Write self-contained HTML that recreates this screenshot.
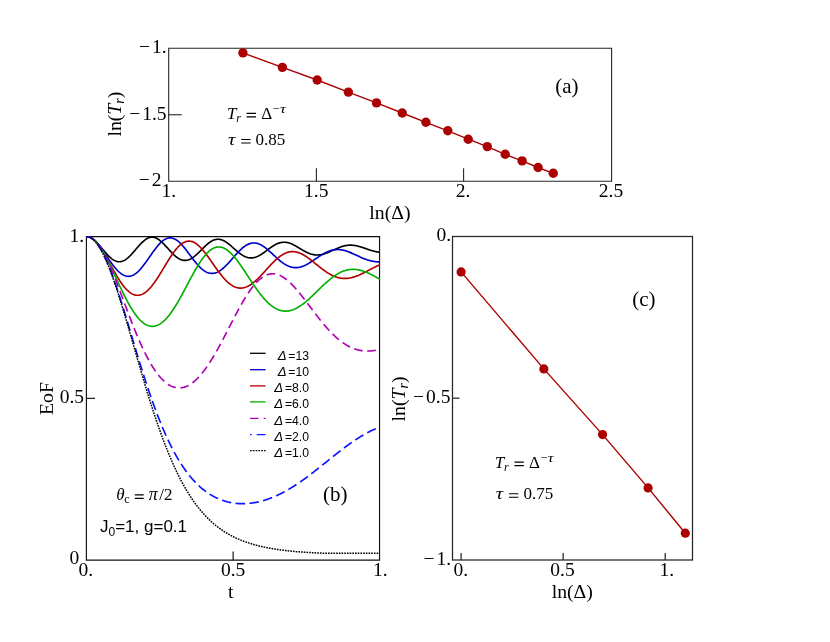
<!DOCTYPE html>
<html><head><meta charset="utf-8"><title>fig</title><style>html,body{margin:0;padding:0;background:#fff}svg{display:block;will-change:transform;opacity:0.999}</style></head><body>
<svg width="830" height="642" viewBox="0 0 830 642">
<rect width="830" height="642" fill="#fff"/>
<defs><clipPath id="cb"><rect x="85.9" y="236.0" width="294.7" height="324.7"/></clipPath></defs>
<g stroke="#262626" stroke-width="1.1" fill="none">
<path d="M168.7,47.65V181.8M611.6,47.65V181.8M168.15,48.2H612.15M168.15,181.25H612.15"/>
<line x1="316.40" y1="181.2" x2="316.40" y2="168.2"/>
<line x1="463.60" y1="181.2" x2="463.60" y2="168.2"/>
<line x1="168.65" y1="114.75" x2="181.65" y2="114.75"/>
</g>
<path d="M242.92,52.90 L282.39,67.40 L317.21,80.00 L348.35,92.10 L376.52,102.90 L402.24,113.00 L425.90,122.30 L447.81,130.80 L468.21,139.20 L487.28,146.60 L505.20,154.30 L522.10,160.90 L538.08,167.50 L553.24,173.30" stroke="#ab0000" stroke-width="1.4" fill="none"/>
<circle cx="242.92" cy="52.90" r="4.7" fill="#ab0000"/>
<circle cx="282.39" cy="67.40" r="4.7" fill="#ab0000"/>
<circle cx="317.21" cy="80.00" r="4.7" fill="#ab0000"/>
<circle cx="348.35" cy="92.10" r="4.7" fill="#ab0000"/>
<circle cx="376.52" cy="102.90" r="4.7" fill="#ab0000"/>
<circle cx="402.24" cy="113.00" r="4.7" fill="#ab0000"/>
<circle cx="425.90" cy="122.30" r="4.7" fill="#ab0000"/>
<circle cx="447.81" cy="130.80" r="4.7" fill="#ab0000"/>
<circle cx="468.21" cy="139.20" r="4.7" fill="#ab0000"/>
<circle cx="487.28" cy="146.60" r="4.7" fill="#ab0000"/>
<circle cx="505.20" cy="154.30" r="4.7" fill="#ab0000"/>
<circle cx="522.10" cy="160.90" r="4.7" fill="#ab0000"/>
<circle cx="538.08" cy="167.50" r="4.7" fill="#ab0000"/>
<circle cx="553.24" cy="173.30" r="4.7" fill="#ab0000"/>
<g stroke="#101010" stroke-width="1.15" fill="none">
<path d="M86.4,236.0V560.7M379.55,236.0V560.7M85.8,236.55H380.1M85.8,560.15H380.1"/>
<line x1="233.15" y1="560.2" x2="233.15" y2="551.6"/>
<line x1="86.4" y1="398.35" x2="95.0" y2="398.35"/>
</g>
<g clip-path="url(#cb)" fill="none" stroke-width="1.65">
<path d="M86.40,236.50 L86.99,236.52 L87.57,236.58 L88.16,236.69 L88.75,236.83 L89.34,237.01 L89.92,237.24 L90.51,237.50 L91.10,237.80 L91.68,238.14 L92.27,238.51 L92.86,238.92 L93.44,239.36 L94.03,239.84 L94.62,240.34 L95.21,240.87 L95.79,241.43 L96.38,242.01 L96.97,242.61 L97.55,243.24 L98.14,243.88 L98.73,244.54 L99.31,245.21 L99.90,245.90 L100.49,246.59 L101.08,247.29 L101.66,248.00 L102.25,248.71 L102.84,249.42 L103.42,250.12 L104.01,250.83 L104.60,251.53 L105.18,252.21 L105.77,252.89 L106.36,253.56 L106.95,254.21 L107.53,254.85 L108.12,255.46 L108.71,256.06 L109.29,256.63 L109.88,257.19 L110.47,257.71 L111.05,258.21 L111.64,258.68 L112.23,259.12 L112.81,259.53 L113.40,259.91 L113.99,260.25 L114.58,260.56 L115.16,260.84 L115.75,261.08 L116.34,261.28 L116.92,261.45 L117.51,261.58 L118.10,261.67 L118.69,261.72 L119.27,261.74 L119.86,261.71 L120.45,261.65 L121.03,261.56 L121.62,261.42 L122.21,261.25 L122.79,261.04 L123.38,260.80 L123.97,260.52 L124.56,260.20 L125.14,259.86 L125.73,259.48 L126.32,259.07 L126.90,258.63 L127.49,258.16 L128.08,257.66 L128.66,257.14 L129.25,256.59 L129.84,256.03 L130.43,255.44 L131.01,254.83 L131.60,254.20 L132.19,253.56 L132.77,252.91 L133.36,252.24 L133.95,251.57 L134.53,250.88 L135.12,250.20 L135.71,249.51 L136.30,248.82 L136.88,248.13 L137.47,247.44 L138.06,246.76 L138.64,246.09 L139.23,245.43 L139.82,244.78 L140.40,244.15 L140.99,243.53 L141.58,242.93 L142.17,242.35 L142.75,241.80 L143.34,241.27 L143.93,240.76 L144.51,240.28 L145.10,239.83 L145.69,239.41 L146.27,239.03 L146.86,238.68 L147.45,238.36 L148.03,238.07 L148.62,237.83 L149.21,237.62 L149.80,237.45 L150.38,237.32 L150.97,237.22 L151.56,237.17 L152.14,237.15 L152.73,237.18 L153.32,237.24 L153.91,237.34 L154.49,237.48 L155.08,237.66 L155.67,237.87 L156.25,238.12 L156.84,238.41 L157.43,238.72 L158.01,239.08 L158.60,239.46 L159.19,239.88 L159.78,240.32 L160.36,240.79 L160.95,241.29 L161.54,241.81 L162.12,242.35 L162.71,242.91 L163.30,243.49 L163.88,244.09 L164.47,244.70 L165.06,245.32 L165.65,245.95 L166.23,246.60 L166.82,247.24 L167.41,247.90 L167.99,248.55 L168.58,249.20 L169.17,249.85 L169.75,250.50 L170.34,251.14 L170.93,251.77 L171.51,252.39 L172.10,253.00 L172.69,253.60 L173.28,254.18 L173.86,254.74 L174.45,255.28 L175.04,255.81 L175.62,256.31 L176.21,256.78 L176.80,257.24 L177.38,257.66 L177.97,258.06 L178.56,258.44 L179.15,258.78 L179.73,259.09 L180.32,259.37 L180.91,259.62 L181.49,259.84 L182.08,260.02 L182.67,260.17 L183.25,260.29 L183.84,260.37 L184.43,260.42 L185.02,260.44 L185.60,260.42 L186.19,260.37 L186.78,260.28 L187.36,260.17 L187.95,260.02 L188.54,259.83 L189.12,259.62 L189.71,259.37 L190.30,259.10 L190.89,258.80 L191.47,258.46 L192.06,258.11 L192.65,257.72 L193.23,257.31 L193.82,256.88 L194.41,256.42 L195.00,255.95 L195.58,255.46 L196.17,254.94 L196.76,254.42 L197.34,253.87 L197.93,253.32 L198.52,252.75 L199.10,252.18 L199.69,251.60 L200.28,251.01 L200.87,250.42 L201.45,249.83 L202.04,249.23 L202.63,248.64 L203.21,248.05 L203.80,247.47 L204.39,246.90 L204.97,246.33 L205.56,245.78 L206.15,245.24 L206.74,244.71 L207.32,244.20 L207.91,243.71 L208.50,243.24 L209.08,242.78 L209.67,242.35 L210.26,241.95 L210.84,241.57 L211.43,241.21 L212.02,240.88 L212.61,240.58 L213.19,240.31 L213.78,240.07 L214.37,239.86 L214.95,239.67 L215.54,239.53 L216.13,239.41 L216.71,239.32 L217.30,239.27 L217.89,239.25 L218.48,239.26 L219.06,239.30 L219.65,239.38 L220.24,239.49 L220.82,239.62 L221.41,239.79 L222.00,239.99 L222.58,240.21 L223.17,240.47 L223.76,240.75 L224.35,241.05 L224.93,241.38 L225.52,241.74 L226.11,242.11 L226.69,242.51 L227.28,242.92 L227.87,243.36 L228.45,243.81 L229.04,244.27 L229.63,244.75 L230.22,245.24 L230.80,245.73 L231.39,246.24 L231.98,246.75 L232.56,247.27 L233.15,247.79 L233.74,248.32 L234.32,248.84 L234.91,249.36 L235.50,249.88 L236.09,250.39 L236.67,250.90 L237.26,251.39 L237.85,251.88 L238.43,252.36 L239.02,252.82 L239.61,253.28 L240.19,253.71 L240.78,254.13 L241.37,254.54 L241.96,254.92 L242.54,255.29 L243.13,255.63 L243.72,255.95 L244.30,256.25 L244.89,256.53 L245.48,256.79 L246.06,257.02 L246.65,257.22 L247.24,257.40 L247.83,257.56 L248.41,257.69 L249.00,257.79 L249.59,257.86 L250.17,257.91 L250.76,257.94 L251.35,257.94 L251.93,257.91 L252.52,257.85 L253.11,257.77 L253.70,257.67 L254.28,257.54 L254.87,257.39 L255.46,257.21 L256.04,257.01 L256.63,256.79 L257.22,256.55 L257.80,256.28 L258.39,256.00 L258.98,255.70 L259.56,255.38 L260.15,255.04 L260.74,254.69 L261.33,254.33 L261.91,253.95 L262.50,253.56 L263.09,253.16 L263.67,252.75 L264.26,252.33 L264.85,251.90 L265.44,251.47 L266.02,251.04 L266.61,250.60 L267.20,250.16 L267.78,249.72 L268.37,249.29 L268.96,248.85 L269.54,248.42 L270.13,248.00 L270.72,247.58 L271.31,247.17 L271.89,246.77 L272.48,246.38 L273.07,246.01 L273.65,245.64 L274.24,245.29 L274.83,244.96 L275.41,244.64 L276.00,244.33 L276.59,244.05 L277.18,243.78 L277.76,243.53 L278.35,243.31 L278.94,243.10 L279.52,242.91 L280.11,242.75 L280.70,242.61 L281.28,242.49 L281.87,242.39 L282.46,242.32 L283.05,242.27 L283.63,242.24 L284.22,242.23 L284.81,242.25 L285.39,242.28 L285.98,242.34 L286.57,242.43 L287.15,242.53 L287.74,242.65 L288.33,242.80 L288.92,242.96 L289.50,243.14 L290.09,243.34 L290.68,243.56 L291.26,243.79 L291.85,244.04 L292.44,244.31 L293.02,244.58 L293.61,244.87 L294.20,245.18 L294.78,245.49 L295.37,245.81 L295.96,246.14 L296.55,246.48 L297.13,246.82 L297.72,247.17 L298.31,247.52 L298.89,247.87 L299.48,248.23 L300.07,248.59 L300.65,248.94 L301.24,249.30 L301.83,249.65 L302.42,249.99 L303.00,250.34 L303.59,250.67 L304.18,251.00 L304.76,251.32 L305.35,251.63 L305.94,251.94 L306.52,252.23 L307.11,252.51 L307.70,252.78 L308.29,253.03 L308.87,253.27 L309.46,253.50 L310.05,253.72 L310.63,253.91 L311.22,254.10 L311.81,254.26 L312.39,254.41 L312.98,254.55 L313.57,254.66 L314.16,254.76 L314.74,254.85 L315.33,254.91 L315.92,254.96 L316.50,254.99 L317.09,255.00 L317.68,255.00 L318.26,254.98 L318.85,254.94 L319.44,254.89 L320.03,254.82 L320.61,254.73 L321.20,254.63 L321.79,254.51 L322.37,254.38 L322.96,254.23 L323.55,254.08 L324.13,253.90 L324.72,253.72 L325.31,253.53 L325.90,253.32 L326.48,253.10 L327.07,252.88 L327.66,252.64 L328.24,252.40 L328.83,252.15 L329.42,251.90 L330.00,251.64 L330.59,251.37 L331.18,251.11 L331.77,250.83 L332.35,250.56 L332.94,250.29 L333.53,250.01 L334.11,249.74 L334.70,249.47 L335.29,249.20 L335.88,248.93 L336.46,248.67 L337.05,248.41 L337.64,248.16 L338.22,247.91 L338.81,247.67 L339.40,247.44 L339.98,247.22 L340.57,247.00 L341.16,246.80 L341.75,246.61 L342.33,246.42 L342.92,246.25 L343.51,246.09 L344.09,245.94 L344.68,245.80 L345.27,245.68 L345.85,245.56 L346.44,245.46 L347.03,245.38 L347.62,245.31 L348.20,245.25 L348.79,245.20 L349.38,245.17 L349.96,245.15 L350.55,245.15 L351.14,245.16 L351.72,245.18 L352.31,245.21 L352.90,245.26 L353.49,245.32 L354.07,245.39 L354.66,245.48 L355.25,245.57 L355.83,245.68 L356.42,245.79 L357.01,245.92 L357.59,246.05 L358.18,246.20 L358.77,246.35 L359.36,246.51 L359.94,246.68 L360.53,246.85 L361.12,247.03 L361.70,247.21 L362.29,247.40 L362.88,247.60 L363.46,247.79 L364.05,247.99 L364.64,248.19 L365.23,248.40 L365.81,248.60 L366.40,248.81 L366.99,249.01 L367.57,249.21 L368.16,249.41 L368.75,249.61 L369.33,249.80 L369.92,250.00 L370.51,250.18 L371.10,250.37 L371.68,250.54 L372.27,250.71 L372.86,250.88 L373.44,251.04 L374.03,251.19 L374.62,251.34 L375.20,251.48 L375.79,251.61 L376.38,251.73 L376.97,251.84 L377.55,251.94 L378.14,252.04 L378.73,252.13 L379.31,252.20 L379.90,252.27" stroke="#000000" />
<path d="M86.40,236.50 L86.99,236.52 L87.57,236.58 L88.16,236.68 L88.75,236.83 L89.34,237.01 L89.92,237.23 L90.51,237.50 L91.10,237.80 L91.68,238.14 L92.27,238.52 L92.86,238.93 L93.44,239.38 L94.03,239.86 L94.62,240.38 L95.21,240.93 L95.79,241.51 L96.38,242.12 L96.97,242.76 L97.55,243.43 L98.14,244.12 L98.73,244.83 L99.31,245.57 L99.90,246.33 L100.49,247.11 L101.08,247.91 L101.66,248.72 L102.25,249.55 L102.84,250.39 L103.42,251.24 L104.01,252.10 L104.60,252.96 L105.18,253.83 L105.77,254.71 L106.36,255.59 L106.95,256.47 L107.53,257.34 L108.12,258.22 L108.71,259.09 L109.29,259.95 L109.88,260.81 L110.47,261.65 L111.05,262.49 L111.64,263.31 L112.23,264.12 L112.81,264.91 L113.40,265.68 L113.99,266.44 L114.58,267.17 L115.16,267.89 L115.75,268.58 L116.34,269.25 L116.92,269.89 L117.51,270.51 L118.10,271.11 L118.69,271.67 L119.27,272.20 L119.86,272.71 L120.45,273.18 L121.03,273.63 L121.62,274.04 L122.21,274.42 L122.79,274.77 L123.38,275.08 L123.97,275.36 L124.56,275.60 L125.14,275.81 L125.73,275.98 L126.32,276.12 L126.90,276.22 L127.49,276.29 L128.08,276.32 L128.66,276.31 L129.25,276.27 L129.84,276.19 L130.43,276.08 L131.01,275.93 L131.60,275.74 L132.19,275.53 L132.77,275.27 L133.36,274.98 L133.95,274.66 L134.53,274.31 L135.12,273.92 L135.71,273.51 L136.30,273.06 L136.88,272.58 L137.47,272.07 L138.06,271.53 L138.64,270.97 L139.23,270.38 L139.82,269.76 L140.40,269.12 L140.99,268.45 L141.58,267.77 L142.17,267.06 L142.75,266.33 L143.34,265.59 L143.93,264.83 L144.51,264.05 L145.10,263.26 L145.69,262.45 L146.27,261.64 L146.86,260.81 L147.45,259.98 L148.03,259.14 L148.62,258.30 L149.21,257.45 L149.80,256.60 L150.38,255.75 L150.97,254.91 L151.56,254.06 L152.14,253.23 L152.73,252.39 L153.32,251.57 L153.91,250.76 L154.49,249.96 L155.08,249.17 L155.67,248.40 L156.25,247.65 L156.84,246.91 L157.43,246.19 L158.01,245.50 L158.60,244.82 L159.19,244.18 L159.78,243.55 L160.36,242.96 L160.95,242.39 L161.54,241.85 L162.12,241.34 L162.71,240.86 L163.30,240.42 L163.88,240.01 L164.47,239.63 L165.06,239.29 L165.65,238.99 L166.23,238.72 L166.82,238.48 L167.41,238.29 L167.99,238.13 L168.58,238.01 L169.17,237.93 L169.75,237.89 L170.34,237.89 L170.93,237.92 L171.51,237.99 L172.10,238.10 L172.69,238.25 L173.28,238.43 L173.86,238.65 L174.45,238.91 L175.04,239.20 L175.62,239.53 L176.21,239.89 L176.80,240.28 L177.38,240.71 L177.97,241.16 L178.56,241.65 L179.15,242.16 L179.73,242.70 L180.32,243.27 L180.91,243.86 L181.49,244.48 L182.08,245.12 L182.67,245.77 L183.25,246.45 L183.84,247.15 L184.43,247.86 L185.02,248.58 L185.60,249.32 L186.19,250.07 L186.78,250.83 L187.36,251.60 L187.95,252.38 L188.54,253.16 L189.12,253.94 L189.71,254.73 L190.30,255.51 L190.89,256.30 L191.47,257.08 L192.06,257.86 L192.65,258.63 L193.23,259.39 L193.82,260.15 L194.41,260.90 L195.00,261.63 L195.58,262.35 L196.17,263.06 L196.76,263.75 L197.34,264.43 L197.93,265.09 L198.52,265.73 L199.10,266.35 L199.69,266.95 L200.28,267.53 L200.87,268.08 L201.45,268.61 L202.04,269.12 L202.63,269.60 L203.21,270.06 L203.80,270.49 L204.39,270.89 L204.97,271.26 L205.56,271.60 L206.15,271.92 L206.74,272.21 L207.32,272.46 L207.91,272.69 L208.50,272.89 L209.08,273.05 L209.67,273.19 L210.26,273.29 L210.84,273.37 L211.43,273.41 L212.02,273.42 L212.61,273.40 L213.19,273.36 L213.78,273.28 L214.37,273.17 L214.95,273.03 L215.54,272.86 L216.13,272.66 L216.71,272.44 L217.30,272.18 L217.89,271.90 L218.48,271.59 L219.06,271.26 L219.65,270.90 L220.24,270.52 L220.82,270.11 L221.41,269.68 L222.00,269.22 L222.58,268.75 L223.17,268.25 L223.76,267.73 L224.35,267.20 L224.93,266.65 L225.52,266.08 L226.11,265.50 L226.69,264.90 L227.28,264.29 L227.87,263.66 L228.45,263.03 L229.04,262.39 L229.63,261.74 L230.22,261.08 L230.80,260.42 L231.39,259.75 L231.98,259.08 L232.56,258.41 L233.15,257.73 L233.74,257.06 L234.32,256.39 L234.91,255.72 L235.50,255.06 L236.09,254.41 L236.67,253.76 L237.26,253.12 L237.85,252.49 L238.43,251.87 L239.02,251.27 L239.61,250.68 L240.19,250.10 L240.78,249.54 L241.37,249.00 L241.96,248.47 L242.54,247.96 L243.13,247.48 L243.72,247.01 L244.30,246.56 L244.89,246.14 L245.48,245.75 L246.06,245.37 L246.65,245.02 L247.24,244.70 L247.83,244.40 L248.41,244.13 L249.00,243.89 L249.59,243.67 L250.17,243.48 L250.76,243.32 L251.35,243.19 L251.93,243.08 L252.52,243.01 L253.11,242.96 L253.70,242.94 L254.28,242.95 L254.87,242.98 L255.46,243.04 L256.04,243.14 L256.63,243.25 L257.22,243.40 L257.80,243.57 L258.39,243.76 L258.98,243.98 L259.56,244.23 L260.15,244.50 L260.74,244.79 L261.33,245.10 L261.91,245.44 L262.50,245.79 L263.09,246.17 L263.67,246.56 L264.26,246.97 L264.85,247.40 L265.44,247.84 L266.02,248.30 L266.61,248.77 L267.20,249.26 L267.78,249.75 L268.37,250.26 L268.96,250.77 L269.54,251.29 L270.13,251.82 L270.72,252.36 L271.31,252.90 L271.89,253.44 L272.48,253.98 L273.07,254.53 L273.65,255.08 L274.24,255.62 L274.83,256.17 L275.41,256.71 L276.00,257.25 L276.59,257.78 L277.18,258.30 L277.76,258.82 L278.35,259.33 L278.94,259.84 L279.52,260.33 L280.11,260.81 L280.70,261.28 L281.28,261.74 L281.87,262.18 L282.46,262.62 L283.05,263.03 L283.63,263.44 L284.22,263.82 L284.81,264.19 L285.39,264.55 L285.98,264.88 L286.57,265.20 L287.15,265.50 L287.74,265.78 L288.33,266.05 L288.92,266.29 L289.50,266.51 L290.09,266.72 L290.68,266.90 L291.26,267.07 L291.85,267.21 L292.44,267.33 L293.02,267.44 L293.61,267.52 L294.20,267.58 L294.78,267.62 L295.37,267.64 L295.96,267.64 L296.55,267.63 L297.13,267.59 L297.72,267.53 L298.31,267.45 L298.89,267.36 L299.48,267.24 L300.07,267.11 L300.65,266.96 L301.24,266.79 L301.83,266.60 L302.42,266.40 L303.00,266.18 L303.59,265.95 L304.18,265.70 L304.76,265.44 L305.35,265.17 L305.94,264.88 L306.52,264.57 L307.11,264.26 L307.70,263.94 L308.29,263.60 L308.87,263.26 L309.46,262.91 L310.05,262.54 L310.63,262.18 L311.22,261.80 L311.81,261.42 L312.39,261.03 L312.98,260.64 L313.57,260.25 L314.16,259.85 L314.74,259.45 L315.33,259.05 L315.92,258.65 L316.50,258.25 L317.09,257.86 L317.68,257.46 L318.26,257.07 L318.85,256.68 L319.44,256.29 L320.03,255.91 L320.61,255.53 L321.20,255.17 L321.79,254.80 L322.37,254.45 L322.96,254.11 L323.55,253.77 L324.13,253.44 L324.72,253.13 L325.31,252.82 L325.90,252.53 L326.48,252.24 L327.07,251.97 L327.66,251.71 L328.24,251.47 L328.83,251.24 L329.42,251.02 L330.00,250.82 L330.59,250.63 L331.18,250.45 L331.77,250.30 L332.35,250.15 L332.94,250.02 L333.53,249.91 L334.11,249.81 L334.70,249.73 L335.29,249.66 L335.88,249.60 L336.46,249.57 L337.05,249.54 L337.64,249.54 L338.22,249.55 L338.81,249.57 L339.40,249.61 L339.98,249.66 L340.57,249.72 L341.16,249.80 L341.75,249.90 L342.33,250.00 L342.92,250.12 L343.51,250.25 L344.09,250.39 L344.68,250.55 L345.27,250.71 L345.85,250.89 L346.44,251.08 L347.03,251.27 L347.62,251.48 L348.20,251.69 L348.79,251.91 L349.38,252.14 L349.96,252.38 L350.55,252.62 L351.14,252.87 L351.72,253.12 L352.31,253.38 L352.90,253.64 L353.49,253.90 L354.07,254.17 L354.66,254.44 L355.25,254.72 L355.83,254.99 L356.42,255.26 L357.01,255.54 L357.59,255.81 L358.18,256.08 L358.77,256.35 L359.36,256.62 L359.94,256.89 L360.53,257.15 L361.12,257.41 L361.70,257.67 L362.29,257.92 L362.88,258.17 L363.46,258.41 L364.05,258.64 L364.64,258.87 L365.23,259.10 L365.81,259.31 L366.40,259.52 L366.99,259.72 L367.57,259.92 L368.16,260.11 L368.75,260.28 L369.33,260.45 L369.92,260.61 L370.51,260.76 L371.10,260.91 L371.68,261.04 L372.27,261.16 L372.86,261.28 L373.44,261.38 L374.03,261.48 L374.62,261.57 L375.20,261.64 L375.79,261.71 L376.38,261.76 L376.97,261.81 L377.55,261.85 L378.14,261.88 L378.73,261.89 L379.31,261.90 L379.90,261.90" stroke="#0000c8" />
<path d="M86.40,236.50 L86.99,236.52 L87.57,236.58 L88.16,236.69 L88.75,236.84 L89.34,237.03 L89.92,237.26 L90.51,237.53 L91.10,237.85 L91.68,238.20 L92.27,238.59 L92.86,239.03 L93.44,239.50 L94.03,240.00 L94.62,240.55 L95.21,241.13 L95.79,241.74 L96.38,242.39 L96.97,243.07 L97.55,243.78 L98.14,244.53 L98.73,245.30 L99.31,246.10 L99.90,246.92 L100.49,247.78 L101.08,248.65 L101.66,249.55 L102.25,250.47 L102.84,251.41 L103.42,252.37 L104.01,253.34 L104.60,254.34 L105.18,255.34 L105.77,256.36 L106.36,257.39 L106.95,258.42 L107.53,259.47 L108.12,260.52 L108.71,261.58 L109.29,262.65 L109.88,263.71 L110.47,264.78 L111.05,265.84 L111.64,266.90 L112.23,267.96 L112.81,269.02 L113.40,270.07 L113.99,271.11 L114.58,272.14 L115.16,273.16 L115.75,274.18 L116.34,275.18 L116.92,276.16 L117.51,277.13 L118.10,278.09 L118.69,279.02 L119.27,279.94 L119.86,280.85 L120.45,281.73 L121.03,282.59 L121.62,283.42 L122.21,284.24 L122.79,285.03 L123.38,285.79 L123.97,286.53 L124.56,287.25 L125.14,287.94 L125.73,288.60 L126.32,289.23 L126.90,289.83 L127.49,290.41 L128.08,290.95 L128.66,291.46 L129.25,291.95 L129.84,292.40 L130.43,292.82 L131.01,293.20 L131.60,293.56 L132.19,293.88 L132.77,294.17 L133.36,294.43 L133.95,294.65 L134.53,294.84 L135.12,295.00 L135.71,295.12 L136.30,295.21 L136.88,295.26 L137.47,295.29 L138.06,295.27 L138.64,295.23 L139.23,295.15 L139.82,295.03 L140.40,294.89 L140.99,294.71 L141.58,294.50 L142.17,294.25 L142.75,293.97 L143.34,293.66 L143.93,293.32 L144.51,292.95 L145.10,292.55 L145.69,292.12 L146.27,291.66 L146.86,291.16 L147.45,290.64 L148.03,290.10 L148.62,289.52 L149.21,288.92 L149.80,288.29 L150.38,287.64 L150.97,286.96 L151.56,286.26 L152.14,285.53 L152.73,284.78 L153.32,284.01 L153.91,283.22 L154.49,282.42 L155.08,281.59 L155.67,280.74 L156.25,279.88 L156.84,279.00 L157.43,278.11 L158.01,277.21 L158.60,276.29 L159.19,275.36 L159.78,274.42 L160.36,273.48 L160.95,272.52 L161.54,271.56 L162.12,270.59 L162.71,269.62 L163.30,268.65 L163.88,267.67 L164.47,266.70 L165.06,265.72 L165.65,264.75 L166.23,263.78 L166.82,262.82 L167.41,261.86 L167.99,260.91 L168.58,259.97 L169.17,259.04 L169.75,258.12 L170.34,257.21 L170.93,256.32 L171.51,255.44 L172.10,254.58 L172.69,253.74 L173.28,252.91 L173.86,252.11 L174.45,251.33 L175.04,250.56 L175.62,249.83 L176.21,249.11 L176.80,248.42 L177.38,247.76 L177.97,247.12 L178.56,246.52 L179.15,245.94 L179.73,245.39 L180.32,244.87 L180.91,244.38 L181.49,243.93 L182.08,243.50 L182.67,243.11 L183.25,242.76 L183.84,242.43 L184.43,242.15 L185.02,241.89 L185.60,241.67 L186.19,241.49 L186.78,241.34 L187.36,241.23 L187.95,241.15 L188.54,241.11 L189.12,241.10 L189.71,241.13 L190.30,241.20 L190.89,241.30 L191.47,241.43 L192.06,241.60 L192.65,241.80 L193.23,242.03 L193.82,242.30 L194.41,242.60 L195.00,242.94 L195.58,243.30 L196.17,243.69 L196.76,244.12 L197.34,244.57 L197.93,245.05 L198.52,245.56 L199.10,246.09 L199.69,246.65 L200.28,247.24 L200.87,247.84 L201.45,248.48 L202.04,249.13 L202.63,249.80 L203.21,250.49 L203.80,251.20 L204.39,251.93 L204.97,252.67 L205.56,253.43 L206.15,254.20 L206.74,254.98 L207.32,255.78 L207.91,256.58 L208.50,257.40 L209.08,258.22 L209.67,259.05 L210.26,259.88 L210.84,260.72 L211.43,261.56 L212.02,262.41 L212.61,263.25 L213.19,264.09 L213.78,264.94 L214.37,265.78 L214.95,266.62 L215.54,267.45 L216.13,268.28 L216.71,269.10 L217.30,269.91 L217.89,270.71 L218.48,271.51 L219.06,272.29 L219.65,273.07 L220.24,273.83 L220.82,274.58 L221.41,275.31 L222.00,276.03 L222.58,276.74 L223.17,277.42 L223.76,278.10 L224.35,278.75 L224.93,279.39 L225.52,280.00 L226.11,280.60 L226.69,281.18 L227.28,281.74 L227.87,282.27 L228.45,282.79 L229.04,283.28 L229.63,283.75 L230.22,284.20 L230.80,284.62 L231.39,285.02 L231.98,285.40 L232.56,285.75 L233.15,286.08 L233.74,286.39 L234.32,286.67 L234.91,286.92 L235.50,287.16 L236.09,287.36 L236.67,287.54 L237.26,287.70 L237.85,287.83 L238.43,287.93 L239.02,288.01 L239.61,288.07 L240.19,288.10 L240.78,288.10 L241.37,288.08 L241.96,288.04 L242.54,287.97 L243.13,287.87 L243.72,287.76 L244.30,287.61 L244.89,287.45 L245.48,287.26 L246.06,287.05 L246.65,286.82 L247.24,286.56 L247.83,286.29 L248.41,285.99 L249.00,285.67 L249.59,285.33 L250.17,284.97 L250.76,284.59 L251.35,284.20 L251.93,283.78 L252.52,283.35 L253.11,282.90 L253.70,282.43 L254.28,281.95 L254.87,281.45 L255.46,280.94 L256.04,280.41 L256.63,279.87 L257.22,279.32 L257.80,278.75 L258.39,278.18 L258.98,277.59 L259.56,276.99 L260.15,276.39 L260.74,275.78 L261.33,275.16 L261.91,274.53 L262.50,273.90 L263.09,273.26 L263.67,272.62 L264.26,271.97 L264.85,271.33 L265.44,270.68 L266.02,270.03 L266.61,269.38 L267.20,268.73 L267.78,268.08 L268.37,267.44 L268.96,266.80 L269.54,266.16 L270.13,265.53 L270.72,264.90 L271.31,264.28 L271.89,263.67 L272.48,263.07 L273.07,262.47 L273.65,261.89 L274.24,261.31 L274.83,260.75 L275.41,260.19 L276.00,259.65 L276.59,259.13 L277.18,258.61 L277.76,258.12 L278.35,257.63 L278.94,257.16 L279.52,256.71 L280.11,256.28 L280.70,255.86 L281.28,255.46 L281.87,255.08 L282.46,254.71 L283.05,254.37 L283.63,254.04 L284.22,253.74 L284.81,253.45 L285.39,253.18 L285.98,252.94 L286.57,252.71 L287.15,252.51 L287.74,252.33 L288.33,252.16 L288.92,252.02 L289.50,251.90 L290.09,251.80 L290.68,251.73 L291.26,251.67 L291.85,251.64 L292.44,251.62 L293.02,251.63 L293.61,251.66 L294.20,251.70 L294.78,251.77 L295.37,251.86 L295.96,251.97 L296.55,252.10 L297.13,252.24 L297.72,252.41 L298.31,252.59 L298.89,252.79 L299.48,253.01 L300.07,253.25 L300.65,253.50 L301.24,253.77 L301.83,254.05 L302.42,254.35 L303.00,254.67 L303.59,254.99 L304.18,255.33 L304.76,255.69 L305.35,256.06 L305.94,256.43 L306.52,256.82 L307.11,257.22 L307.70,257.63 L308.29,258.05 L308.87,258.48 L309.46,258.91 L310.05,259.35 L310.63,259.80 L311.22,260.25 L311.81,260.71 L312.39,261.18 L312.98,261.64 L313.57,262.12 L314.16,262.59 L314.74,263.06 L315.33,263.54 L315.92,264.02 L316.50,264.50 L317.09,264.97 L317.68,265.45 L318.26,265.92 L318.85,266.39 L319.44,266.86 L320.03,267.33 L320.61,267.79 L321.20,268.25 L321.79,268.70 L322.37,269.14 L322.96,269.58 L323.55,270.02 L324.13,270.44 L324.72,270.86 L325.31,271.27 L325.90,271.68 L326.48,272.07 L327.07,272.45 L327.66,272.83 L328.24,273.19 L328.83,273.55 L329.42,273.89 L330.00,274.22 L330.59,274.55 L331.18,274.86 L331.77,275.15 L332.35,275.44 L332.94,275.72 L333.53,275.98 L334.11,276.23 L334.70,276.46 L335.29,276.69 L335.88,276.90 L336.46,277.09 L337.05,277.28 L337.64,277.45 L338.22,277.61 L338.81,277.75 L339.40,277.88 L339.98,278.00 L340.57,278.10 L341.16,278.19 L341.75,278.26 L342.33,278.33 L342.92,278.37 L343.51,278.41 L344.09,278.43 L344.68,278.44 L345.27,278.43 L345.85,278.42 L346.44,278.39 L347.03,278.34 L347.62,278.29 L348.20,278.22 L348.79,278.14 L349.38,278.05 L349.96,277.94 L350.55,277.83 L351.14,277.70 L351.72,277.57 L352.31,277.42 L352.90,277.26 L353.49,277.09 L354.07,276.91 L354.66,276.72 L355.25,276.53 L355.83,276.32 L356.42,276.11 L357.01,275.88 L357.59,275.65 L358.18,275.41 L358.77,275.17 L359.36,274.92 L359.94,274.66 L360.53,274.39 L361.12,274.12 L361.70,273.85 L362.29,273.57 L362.88,273.28 L363.46,272.99 L364.05,272.70 L364.64,272.40 L365.23,272.10 L365.81,271.80 L366.40,271.49 L366.99,271.19 L367.57,270.88 L368.16,270.57 L368.75,270.26 L369.33,269.95 L369.92,269.64 L370.51,269.33 L371.10,269.03 L371.68,268.72 L372.27,268.42 L372.86,268.11 L373.44,267.81 L374.03,267.52 L374.62,267.22 L375.20,266.93 L375.79,266.65 L376.38,266.36 L376.97,266.09 L377.55,265.81 L378.14,265.55 L378.73,265.28 L379.31,265.03 L379.90,264.78" stroke="#b20000" />
<path d="M86.40,236.50 L86.99,236.52 L87.57,236.58 L88.16,236.69 L88.75,236.83 L89.34,237.01 L89.92,237.24 L90.51,237.51 L91.10,237.81 L91.68,238.16 L92.27,238.54 L92.86,238.97 L93.44,239.43 L94.03,239.93 L94.62,240.47 L95.21,241.04 L95.79,241.66 L96.38,242.30 L96.97,242.98 L97.55,243.70 L98.14,244.45 L98.73,245.23 L99.31,246.04 L99.90,246.88 L100.49,247.75 L101.08,248.65 L101.66,249.58 L102.25,250.54 L102.84,251.52 L103.42,252.53 L104.01,253.55 L104.60,254.61 L105.18,255.68 L105.77,256.77 L106.36,257.89 L106.95,259.02 L107.53,260.17 L108.12,261.33 L108.71,262.51 L109.29,263.71 L109.88,264.91 L110.47,266.13 L111.05,267.36 L111.64,268.59 L112.23,269.84 L112.81,271.09 L113.40,272.35 L113.99,273.61 L114.58,274.88 L115.16,276.15 L115.75,277.42 L116.34,278.69 L116.92,279.95 L117.51,281.22 L118.10,282.49 L118.69,283.75 L119.27,285.01 L119.86,286.26 L120.45,287.50 L121.03,288.74 L121.62,289.96 L122.21,291.18 L122.79,292.39 L123.38,293.59 L123.97,294.77 L124.56,295.95 L125.14,297.10 L125.73,298.25 L126.32,299.38 L126.90,300.49 L127.49,301.59 L128.08,302.67 L128.66,303.73 L129.25,304.77 L129.84,305.79 L130.43,306.80 L131.01,307.78 L131.60,308.74 L132.19,309.68 L132.77,310.60 L133.36,311.50 L133.95,312.37 L134.53,313.22 L135.12,314.05 L135.71,314.85 L136.30,315.63 L136.88,316.38 L137.47,317.11 L138.06,317.81 L138.64,318.48 L139.23,319.13 L139.82,319.75 L140.40,320.35 L140.99,320.92 L141.58,321.46 L142.17,321.97 L142.75,322.46 L143.34,322.91 L143.93,323.34 L144.51,323.74 L145.10,324.12 L145.69,324.46 L146.27,324.78 L146.86,325.06 L147.45,325.32 L148.03,325.55 L148.62,325.75 L149.21,325.92 L149.80,326.06 L150.38,326.18 L150.97,326.26 L151.56,326.32 L152.14,326.34 L152.73,326.34 L153.32,326.31 L153.91,326.25 L154.49,326.16 L155.08,326.05 L155.67,325.90 L156.25,325.73 L156.84,325.52 L157.43,325.29 L158.01,325.04 L158.60,324.75 L159.19,324.44 L159.78,324.10 L160.36,323.73 L160.95,323.34 L161.54,322.92 L162.12,322.47 L162.71,322.00 L163.30,321.50 L163.88,320.97 L164.47,320.42 L165.06,319.85 L165.65,319.25 L166.23,318.63 L166.82,317.98 L167.41,317.31 L167.99,316.62 L168.58,315.91 L169.17,315.17 L169.75,314.41 L170.34,313.63 L170.93,312.83 L171.51,312.02 L172.10,311.18 L172.69,310.32 L173.28,309.44 L173.86,308.55 L174.45,307.64 L175.04,306.71 L175.62,305.76 L176.21,304.80 L176.80,303.83 L177.38,302.84 L177.97,301.84 L178.56,300.82 L179.15,299.80 L179.73,298.76 L180.32,297.71 L180.91,296.65 L181.49,295.59 L182.08,294.51 L182.67,293.43 L183.25,292.34 L183.84,291.25 L184.43,290.15 L185.02,289.04 L185.60,287.94 L186.19,286.83 L186.78,285.72 L187.36,284.61 L187.95,283.50 L188.54,282.39 L189.12,281.28 L189.71,280.18 L190.30,279.08 L190.89,277.98 L191.47,276.89 L192.06,275.81 L192.65,274.73 L193.23,273.67 L193.82,272.61 L194.41,271.56 L195.00,270.53 L195.58,269.51 L196.17,268.50 L196.76,267.50 L197.34,266.52 L197.93,265.55 L198.52,264.60 L199.10,263.67 L199.69,262.76 L200.28,261.86 L200.87,260.99 L201.45,260.13 L202.04,259.30 L202.63,258.49 L203.21,257.70 L203.80,256.94 L204.39,256.20 L204.97,255.48 L205.56,254.79 L206.15,254.13 L206.74,253.49 L207.32,252.88 L207.91,252.30 L208.50,251.75 L209.08,251.22 L209.67,250.72 L210.26,250.26 L210.84,249.82 L211.43,249.41 L212.02,249.04 L212.61,248.69 L213.19,248.38 L213.78,248.09 L214.37,247.84 L214.95,247.62 L215.54,247.43 L216.13,247.28 L216.71,247.15 L217.30,247.06 L217.89,246.99 L218.48,246.96 L219.06,246.97 L219.65,247.00 L220.24,247.06 L220.82,247.16 L221.41,247.28 L222.00,247.44 L222.58,247.62 L223.17,247.84 L223.76,248.08 L224.35,248.36 L224.93,248.66 L225.52,248.99 L226.11,249.35 L226.69,249.73 L227.28,250.14 L227.87,250.58 L228.45,251.05 L229.04,251.54 L229.63,252.05 L230.22,252.59 L230.80,253.15 L231.39,253.73 L231.98,254.33 L232.56,254.96 L233.15,255.60 L233.74,256.27 L234.32,256.95 L234.91,257.65 L235.50,258.37 L236.09,259.11 L236.67,259.86 L237.26,260.63 L237.85,261.41 L238.43,262.20 L239.02,263.01 L239.61,263.82 L240.19,264.65 L240.78,265.49 L241.37,266.34 L241.96,267.20 L242.54,268.06 L243.13,268.93 L243.72,269.81 L244.30,270.69 L244.89,271.58 L245.48,272.47 L246.06,273.36 L246.65,274.26 L247.24,275.16 L247.83,276.05 L248.41,276.95 L249.00,277.85 L249.59,278.75 L250.17,279.64 L250.76,280.53 L251.35,281.42 L251.93,282.30 L252.52,283.18 L253.11,284.05 L253.70,284.92 L254.28,285.78 L254.87,286.63 L255.46,287.47 L256.04,288.31 L256.63,289.14 L257.22,289.95 L257.80,290.76 L258.39,291.56 L258.98,292.34 L259.56,293.12 L260.15,293.88 L260.74,294.63 L261.33,295.36 L261.91,296.09 L262.50,296.80 L263.09,297.49 L263.67,298.17 L264.26,298.84 L264.85,299.49 L265.44,300.12 L266.02,300.74 L266.61,301.34 L267.20,301.93 L267.78,302.50 L268.37,303.05 L268.96,303.59 L269.54,304.11 L270.13,304.61 L270.72,305.09 L271.31,305.56 L271.89,306.00 L272.48,306.43 L273.07,306.84 L273.65,307.23 L274.24,307.61 L274.83,307.96 L275.41,308.30 L276.00,308.62 L276.59,308.91 L277.18,309.19 L277.76,309.45 L278.35,309.69 L278.94,309.92 L279.52,310.12 L280.11,310.30 L280.70,310.47 L281.28,310.62 L281.87,310.74 L282.46,310.85 L283.05,310.94 L283.63,311.01 L284.22,311.07 L284.81,311.10 L285.39,311.12 L285.98,311.11 L286.57,311.09 L287.15,311.05 L287.74,311.00 L288.33,310.92 L288.92,310.83 L289.50,310.72 L290.09,310.60 L290.68,310.45 L291.26,310.29 L291.85,310.12 L292.44,309.93 L293.02,309.72 L293.61,309.49 L294.20,309.25 L294.78,309.00 L295.37,308.73 L295.96,308.44 L296.55,308.14 L297.13,307.83 L297.72,307.50 L298.31,307.16 L298.89,306.81 L299.48,306.44 L300.07,306.06 L300.65,305.67 L301.24,305.26 L301.83,304.85 L302.42,304.42 L303.00,303.98 L303.59,303.54 L304.18,303.08 L304.76,302.61 L305.35,302.13 L305.94,301.65 L306.52,301.15 L307.11,300.65 L307.70,300.14 L308.29,299.62 L308.87,299.10 L309.46,298.56 L310.05,298.03 L310.63,297.49 L311.22,296.94 L311.81,296.38 L312.39,295.83 L312.98,295.27 L313.57,294.70 L314.16,294.14 L314.74,293.57 L315.33,292.99 L315.92,292.42 L316.50,291.85 L317.09,291.27 L317.68,290.69 L318.26,290.12 L318.85,289.54 L319.44,288.97 L320.03,288.40 L320.61,287.83 L321.20,287.26 L321.79,286.69 L322.37,286.13 L322.96,285.57 L323.55,285.02 L324.13,284.47 L324.72,283.92 L325.31,283.38 L325.90,282.85 L326.48,282.32 L327.07,281.80 L327.66,281.28 L328.24,280.77 L328.83,280.27 L329.42,279.78 L330.00,279.29 L330.59,278.82 L331.18,278.35 L331.77,277.89 L332.35,277.45 L332.94,277.01 L333.53,276.58 L334.11,276.16 L334.70,275.75 L335.29,275.36 L335.88,274.97 L336.46,274.60 L337.05,274.24 L337.64,273.89 L338.22,273.55 L338.81,273.22 L339.40,272.91 L339.98,272.61 L340.57,272.32 L341.16,272.05 L341.75,271.78 L342.33,271.54 L342.92,271.30 L343.51,271.08 L344.09,270.87 L344.68,270.67 L345.27,270.49 L345.85,270.32 L346.44,270.16 L347.03,270.02 L347.62,269.89 L348.20,269.78 L348.79,269.68 L349.38,269.59 L349.96,269.52 L350.55,269.45 L351.14,269.41 L351.72,269.37 L352.31,269.35 L352.90,269.34 L353.49,269.35 L354.07,269.36 L354.66,269.39 L355.25,269.43 L355.83,269.49 L356.42,269.55 L357.01,269.63 L357.59,269.72 L358.18,269.82 L358.77,269.93 L359.36,270.06 L359.94,270.19 L360.53,270.34 L361.12,270.49 L361.70,270.66 L362.29,270.83 L362.88,271.02 L363.46,271.21 L364.05,271.42 L364.64,271.63 L365.23,271.85 L365.81,272.08 L366.40,272.32 L366.99,272.56 L367.57,272.81 L368.16,273.07 L368.75,273.34 L369.33,273.61 L369.92,273.89 L370.51,274.18 L371.10,274.47 L371.68,274.76 L372.27,275.06 L372.86,275.37 L373.44,275.68 L374.03,275.99 L374.62,276.31 L375.20,276.63 L375.79,276.96 L376.38,277.28 L376.97,277.61 L377.55,277.95 L378.14,278.28 L378.73,278.62 L379.31,278.95 L379.90,279.29" stroke="#00b000" />
<path d="M86.40,236.50 L86.99,236.52 L87.57,236.58 L88.16,236.68 L88.75,236.83 L89.34,237.01 L89.92,237.23 L90.51,237.50 L91.10,237.80 L91.68,238.14 L92.27,238.53 L92.86,238.95 L93.44,239.41 L94.03,239.91 L94.62,240.45 L95.21,241.03 L95.79,241.64 L96.38,242.29 L96.97,242.98 L97.55,243.70 L98.14,244.46 L98.73,245.26 L99.31,246.09 L99.90,246.95 L100.49,247.84 L101.08,248.77 L101.66,249.73 L102.25,250.72 L102.84,251.74 L103.42,252.79 L104.01,253.87 L104.60,254.97 L105.18,256.11 L105.77,257.27 L106.36,258.45 L106.95,259.67 L107.53,260.90 L108.12,262.16 L108.71,263.44 L109.29,264.74 L109.88,266.07 L110.47,267.41 L111.05,268.77 L111.64,270.15 L112.23,271.55 L112.81,272.96 L113.40,274.39 L113.99,275.84 L114.58,277.30 L115.16,278.77 L115.75,280.25 L116.34,281.75 L116.92,283.25 L117.51,284.76 L118.10,286.29 L118.69,287.82 L119.27,289.36 L119.86,290.90 L120.45,292.45 L121.03,294.00 L121.62,295.56 L122.21,297.12 L122.79,298.68 L123.38,300.24 L123.97,301.81 L124.56,303.37 L125.14,304.94 L125.73,306.50 L126.32,308.06 L126.90,309.61 L127.49,311.16 L128.08,312.71 L128.66,314.25 L129.25,315.79 L129.84,317.32 L130.43,318.84 L131.01,320.36 L131.60,321.87 L132.19,323.37 L132.77,324.86 L133.36,326.34 L133.95,327.81 L134.53,329.26 L135.12,330.71 L135.71,332.15 L136.30,333.57 L136.88,334.98 L137.47,336.38 L138.06,337.76 L138.64,339.13 L139.23,340.48 L139.82,341.82 L140.40,343.15 L140.99,344.46 L141.58,345.75 L142.17,347.03 L142.75,348.29 L143.34,349.53 L143.93,350.76 L144.51,351.97 L145.10,353.16 L145.69,354.34 L146.27,355.49 L146.86,356.63 L147.45,357.75 L148.03,358.85 L148.62,359.93 L149.21,360.99 L149.80,362.03 L150.38,363.06 L150.97,364.06 L151.56,365.04 L152.14,366.01 L152.73,366.95 L153.32,367.88 L153.91,368.78 L154.49,369.66 L155.08,370.53 L155.67,371.37 L156.25,372.19 L156.84,372.99 L157.43,373.77 L158.01,374.53 L158.60,375.27 L159.19,375.99 L159.78,376.68 L160.36,377.36 L160.95,378.02 L161.54,378.65 L162.12,379.26 L162.71,379.85 L163.30,380.42 L163.88,380.97 L164.47,381.50 L165.06,382.01 L165.65,382.50 L166.23,382.96 L166.82,383.41 L167.41,383.83 L167.99,384.23 L168.58,384.61 L169.17,384.97 L169.75,385.31 L170.34,385.63 L170.93,385.93 L171.51,386.20 L172.10,386.46 L172.69,386.69 L173.28,386.91 L173.86,387.10 L174.45,387.27 L175.04,387.42 L175.62,387.56 L176.21,387.67 L176.80,387.76 L177.38,387.83 L177.97,387.88 L178.56,387.91 L179.15,387.91 L179.73,387.90 L180.32,387.87 L180.91,387.82 L181.49,387.75 L182.08,387.66 L182.67,387.55 L183.25,387.42 L183.84,387.26 L184.43,387.09 L185.02,386.90 L185.60,386.69 L186.19,386.46 L186.78,386.22 L187.36,385.95 L187.95,385.66 L188.54,385.35 L189.12,385.03 L189.71,384.69 L190.30,384.32 L190.89,383.94 L191.47,383.54 L192.06,383.12 L192.65,382.69 L193.23,382.23 L193.82,381.76 L194.41,381.27 L195.00,380.76 L195.58,380.23 L196.17,379.68 L196.76,379.12 L197.34,378.54 L197.93,377.95 L198.52,377.33 L199.10,376.70 L199.69,376.05 L200.28,375.39 L200.87,374.71 L201.45,374.01 L202.04,373.30 L202.63,372.57 L203.21,371.82 L203.80,371.06 L204.39,370.29 L204.97,369.50 L205.56,368.69 L206.15,367.87 L206.74,367.04 L207.32,366.19 L207.91,365.33 L208.50,364.45 L209.08,363.56 L209.67,362.66 L210.26,361.74 L210.84,360.81 L211.43,359.87 L212.02,358.92 L212.61,357.96 L213.19,356.98 L213.78,355.99 L214.37,355.00 L214.95,353.99 L215.54,352.97 L216.13,351.94 L216.71,350.90 L217.30,349.86 L217.89,348.80 L218.48,347.74 L219.06,346.66 L219.65,345.58 L220.24,344.50 L220.82,343.40 L221.41,342.30 L222.00,341.20 L222.58,340.08 L223.17,338.97 L223.76,337.85 L224.35,336.72 L224.93,335.59 L225.52,334.46 L226.11,333.32 L226.69,332.18 L227.28,331.04 L227.87,329.90 L228.45,328.75 L229.04,327.61 L229.63,326.47 L230.22,325.32 L230.80,324.18 L231.39,323.04 L231.98,321.90 L232.56,320.76 L233.15,319.63 L233.74,318.49 L234.32,317.37 L234.91,316.24 L235.50,315.13 L236.09,314.01 L236.67,312.91 L237.26,311.81 L237.85,310.71 L238.43,309.63 L239.02,308.55 L239.61,307.48 L240.19,306.42 L240.78,305.37 L241.37,304.33 L241.96,303.30 L242.54,302.28 L243.13,301.27 L243.72,300.28 L244.30,299.29 L244.89,298.32 L245.48,297.36 L246.06,296.42 L246.65,295.49 L247.24,294.58 L247.83,293.68 L248.41,292.79 L249.00,291.93 L249.59,291.08 L250.17,290.24 L250.76,289.42 L251.35,288.62 L251.93,287.84 L252.52,287.08 L253.11,286.34 L253.70,285.61 L254.28,284.90 L254.87,284.22 L255.46,283.55 L256.04,282.90 L256.63,282.28 L257.22,281.67 L257.80,281.09 L258.39,280.53 L258.98,279.99 L259.56,279.47 L260.15,278.97 L260.74,278.49 L261.33,278.04 L261.91,277.61 L262.50,277.20 L263.09,276.82 L263.67,276.45 L264.26,276.12 L264.85,275.80 L265.44,275.50 L266.02,275.23 L266.61,274.99 L267.20,274.76 L267.78,274.56 L268.37,274.38 L268.96,274.23 L269.54,274.10 L270.13,273.99 L270.72,273.90 L271.31,273.84 L271.89,273.80 L272.48,273.78 L273.07,273.79 L273.65,273.81 L274.24,273.86 L274.83,273.93 L275.41,274.03 L276.00,274.14 L276.59,274.28 L277.18,274.43 L277.76,274.61 L278.35,274.81 L278.94,275.03 L279.52,275.27 L280.11,275.53 L280.70,275.81 L281.28,276.11 L281.87,276.43 L282.46,276.76 L283.05,277.12 L283.63,277.49 L284.22,277.88 L284.81,278.29 L285.39,278.72 L285.98,279.16 L286.57,279.62 L287.15,280.09 L287.74,280.58 L288.33,281.09 L288.92,281.61 L289.50,282.14 L290.09,282.69 L290.68,283.26 L291.26,283.83 L291.85,284.42 L292.44,285.02 L293.02,285.63 L293.61,286.26 L294.20,286.89 L294.78,287.54 L295.37,288.20 L295.96,288.86 L296.55,289.54 L297.13,290.22 L297.72,290.92 L298.31,291.62 L298.89,292.33 L299.48,293.04 L300.07,293.77 L300.65,294.50 L301.24,295.23 L301.83,295.98 L302.42,296.72 L303.00,297.48 L303.59,298.23 L304.18,298.99 L304.76,299.76 L305.35,300.53 L305.94,301.30 L306.52,302.07 L307.11,302.85 L307.70,303.62 L308.29,304.40 L308.87,305.18 L309.46,305.96 L310.05,306.74 L310.63,307.52 L311.22,308.30 L311.81,309.08 L312.39,309.86 L312.98,310.64 L313.57,311.42 L314.16,312.19 L314.74,312.96 L315.33,313.73 L315.92,314.49 L316.50,315.26 L317.09,316.02 L317.68,316.77 L318.26,317.52 L318.85,318.27 L319.44,319.01 L320.03,319.75 L320.61,320.48 L321.20,321.21 L321.79,321.93 L322.37,322.65 L322.96,323.36 L323.55,324.06 L324.13,324.76 L324.72,325.45 L325.31,326.13 L325.90,326.81 L326.48,327.48 L327.07,328.14 L327.66,328.80 L328.24,329.45 L328.83,330.09 L329.42,330.72 L330.00,331.34 L330.59,331.96 L331.18,332.56 L331.77,333.16 L332.35,333.75 L332.94,334.33 L333.53,334.90 L334.11,335.46 L334.70,336.01 L335.29,336.56 L335.88,337.09 L336.46,337.62 L337.05,338.13 L337.64,338.64 L338.22,339.14 L338.81,339.62 L339.40,340.10 L339.98,340.56 L340.57,341.02 L341.16,341.47 L341.75,341.90 L342.33,342.33 L342.92,342.75 L343.51,343.15 L344.09,343.55 L344.68,343.93 L345.27,344.31 L345.85,344.68 L346.44,345.03 L347.03,345.37 L347.62,345.71 L348.20,346.03 L348.79,346.35 L349.38,346.65 L349.96,346.94 L350.55,347.22 L351.14,347.50 L351.72,347.76 L352.31,348.01 L352.90,348.25 L353.49,348.48 L354.07,348.70 L354.66,348.92 L355.25,349.12 L355.83,349.31 L356.42,349.49 L357.01,349.66 L357.59,349.82 L358.18,349.97 L358.77,350.11 L359.36,350.24 L359.94,350.36 L360.53,350.47 L361.12,350.58 L361.70,350.67 L362.29,350.75 L362.88,350.82 L363.46,350.89 L364.05,350.94 L364.64,350.99 L365.23,351.02 L365.81,351.05 L366.40,351.07 L366.99,351.08 L367.57,351.08 L368.16,351.07 L368.75,351.05 L369.33,351.03 L369.92,350.99 L370.51,350.95 L371.10,350.90 L371.68,350.84 L372.27,350.77 L372.86,350.70 L373.44,350.62 L374.03,350.52 L374.62,350.43 L375.20,350.32 L375.79,350.21 L376.38,350.08 L376.97,349.96 L377.55,349.82 L378.14,349.68 L378.73,349.53 L379.31,349.37 L379.90,349.21" stroke="#b200b2" stroke-dasharray="8.6 4.65"/>
<path d="M86.40,236.50 L86.99,236.52 L87.57,236.59 L88.16,236.70 L88.75,236.85 L89.34,237.05 L89.92,237.29 L90.51,237.57 L91.10,237.90 L91.68,238.27 L92.27,238.68 L92.86,239.14 L93.44,239.63 L94.03,240.17 L94.62,240.75 L95.21,241.37 L95.79,242.04 L96.38,242.74 L96.97,243.48 L97.55,244.26 L98.14,245.08 L98.73,245.94 L99.31,246.84 L99.90,247.78 L100.49,248.75 L101.08,249.76 L101.66,250.80 L102.25,251.89 L102.84,253.00 L103.42,254.15 L104.01,255.33 L104.60,256.55 L105.18,257.80 L105.77,259.08 L106.36,260.39 L106.95,261.73 L107.53,263.10 L108.12,264.51 L108.71,265.93 L109.29,267.39 L109.88,268.87 L110.47,270.38 L111.05,271.92 L111.64,273.48 L112.23,275.06 L112.81,276.67 L113.40,278.30 L113.99,279.95 L114.58,281.62 L115.16,283.31 L115.75,285.02 L116.34,286.75 L116.92,288.50 L117.51,290.26 L118.10,292.05 L118.69,293.84 L119.27,295.65 L119.86,297.48 L120.45,299.32 L121.03,301.17 L121.62,303.03 L122.21,304.91 L122.79,306.79 L123.38,308.68 L123.97,310.59 L124.56,312.50 L125.14,314.42 L125.73,316.34 L126.32,318.27 L126.90,320.21 L127.49,322.15 L128.08,324.10 L128.66,326.04 L129.25,328.00 L129.84,329.95 L130.43,331.90 L131.01,333.86 L131.60,335.82 L132.19,337.77 L132.77,339.72 L133.36,341.68 L133.95,343.63 L134.53,345.58 L135.12,347.52 L135.71,349.46 L136.30,351.40 L136.88,353.33 L137.47,355.25 L138.06,357.18 L138.64,359.09 L139.23,361.00 L139.82,362.90 L140.40,364.79 L140.99,366.67 L141.58,368.55 L142.17,370.42 L142.75,372.27 L143.34,374.12 L143.93,375.96 L144.51,377.79 L145.10,379.61 L145.69,381.41 L146.27,383.21 L146.86,384.99 L147.45,386.76 L148.03,388.52 L148.62,390.27 L149.21,392.00 L149.80,393.73 L150.38,395.43 L150.97,397.13 L151.56,398.81 L152.14,400.48 L152.73,402.13 L153.32,403.77 L153.91,405.39 L154.49,407.01 L155.08,408.60 L155.67,410.18 L156.25,411.75 L156.84,413.30 L157.43,414.84 L158.01,416.36 L158.60,417.86 L159.19,419.35 L159.78,420.83 L160.36,422.29 L160.95,423.73 L161.54,425.16 L162.12,426.57 L162.71,427.97 L163.30,429.35 L163.88,430.72 L164.47,432.07 L165.06,433.40 L165.65,434.72 L166.23,436.02 L166.82,437.31 L167.41,438.58 L167.99,439.84 L168.58,441.08 L169.17,442.30 L169.75,443.51 L170.34,444.71 L170.93,445.88 L171.51,447.05 L172.10,448.19 L172.69,449.33 L173.28,450.44 L173.86,451.54 L174.45,452.63 L175.04,453.70 L175.62,454.76 L176.21,455.80 L176.80,456.83 L177.38,457.84 L177.97,458.84 L178.56,459.82 L179.15,460.79 L179.73,461.75 L180.32,462.69 L180.91,463.61 L181.49,464.52 L182.08,465.42 L182.67,466.31 L183.25,467.18 L183.84,468.04 L184.43,468.88 L185.02,469.71 L185.60,470.53 L186.19,471.34 L186.78,472.13 L187.36,472.91 L187.95,473.67 L188.54,474.43 L189.12,475.17 L189.71,475.90 L190.30,476.61 L190.89,477.32 L191.47,478.01 L192.06,478.69 L192.65,479.36 L193.23,480.02 L193.82,480.66 L194.41,481.30 L195.00,481.92 L195.58,482.53 L196.17,483.13 L196.76,483.72 L197.34,484.30 L197.93,484.87 L198.52,485.42 L199.10,485.97 L199.69,486.51 L200.28,487.03 L200.87,487.55 L201.45,488.05 L202.04,488.55 L202.63,489.04 L203.21,489.51 L203.80,489.98 L204.39,490.44 L204.97,490.88 L205.56,491.32 L206.15,491.75 L206.74,492.17 L207.32,492.58 L207.91,492.98 L208.50,493.38 L209.08,493.76 L209.67,494.14 L210.26,494.50 L210.84,494.86 L211.43,495.21 L212.02,495.56 L212.61,495.89 L213.19,496.21 L213.78,496.53 L214.37,496.84 L214.95,497.14 L215.54,497.44 L216.13,497.72 L216.71,498.00 L217.30,498.27 L217.89,498.54 L218.48,498.79 L219.06,499.04 L219.65,499.28 L220.24,499.52 L220.82,499.75 L221.41,499.97 L222.00,500.18 L222.58,500.39 L223.17,500.59 L223.76,500.78 L224.35,500.96 L224.93,501.14 L225.52,501.32 L226.11,501.48 L226.69,501.64 L227.28,501.80 L227.87,501.94 L228.45,502.08 L229.04,502.22 L229.63,502.35 L230.22,502.47 L230.80,502.58 L231.39,502.69 L231.98,502.80 L232.56,502.90 L233.15,502.99 L233.74,503.07 L234.32,503.15 L234.91,503.23 L235.50,503.30 L236.09,503.36 L236.67,503.42 L237.26,503.47 L237.85,503.52 L238.43,503.56 L239.02,503.59 L239.61,503.62 L240.19,503.65 L240.78,503.67 L241.37,503.68 L241.96,503.69 L242.54,503.69 L243.13,503.69 L243.72,503.68 L244.30,503.67 L244.89,503.65 L245.48,503.63 L246.06,503.60 L246.65,503.57 L247.24,503.53 L247.83,503.48 L248.41,503.44 L249.00,503.38 L249.59,503.32 L250.17,503.26 L250.76,503.19 L251.35,503.12 L251.93,503.04 L252.52,502.96 L253.11,502.87 L253.70,502.78 L254.28,502.68 L254.87,502.58 L255.46,502.47 L256.04,502.36 L256.63,502.25 L257.22,502.13 L257.80,502.00 L258.39,501.87 L258.98,501.74 L259.56,501.60 L260.15,501.45 L260.74,501.31 L261.33,501.15 L261.91,501.00 L262.50,500.83 L263.09,500.67 L263.67,500.50 L264.26,500.32 L264.85,500.14 L265.44,499.96 L266.02,499.77 L266.61,499.58 L267.20,499.38 L267.78,499.18 L268.37,498.97 L268.96,498.76 L269.54,498.55 L270.13,498.33 L270.72,498.10 L271.31,497.88 L271.89,497.65 L272.48,497.41 L273.07,497.17 L273.65,496.93 L274.24,496.68 L274.83,496.43 L275.41,496.17 L276.00,495.91 L276.59,495.64 L277.18,495.38 L277.76,495.10 L278.35,494.83 L278.94,494.55 L279.52,494.26 L280.11,493.97 L280.70,493.68 L281.28,493.39 L281.87,493.09 L282.46,492.78 L283.05,492.47 L283.63,492.16 L284.22,491.85 L284.81,491.53 L285.39,491.21 L285.98,490.88 L286.57,490.55 L287.15,490.22 L287.74,489.88 L288.33,489.54 L288.92,489.20 L289.50,488.85 L290.09,488.50 L290.68,488.14 L291.26,487.78 L291.85,487.42 L292.44,487.06 L293.02,486.69 L293.61,486.32 L294.20,485.95 L294.78,485.57 L295.37,485.19 L295.96,484.80 L296.55,484.42 L297.13,484.03 L297.72,483.64 L298.31,483.24 L298.89,482.84 L299.48,482.44 L300.07,482.04 L300.65,481.63 L301.24,481.22 L301.83,480.81 L302.42,480.39 L303.00,479.98 L303.59,479.56 L304.18,479.13 L304.76,478.71 L305.35,478.28 L305.94,477.85 L306.52,477.42 L307.11,476.99 L307.70,476.55 L308.29,476.11 L308.87,475.67 L309.46,475.23 L310.05,474.79 L310.63,474.34 L311.22,473.89 L311.81,473.44 L312.39,472.99 L312.98,472.54 L313.57,472.09 L314.16,471.63 L314.74,471.17 L315.33,470.71 L315.92,470.25 L316.50,469.79 L317.09,469.33 L317.68,468.87 L318.26,468.40 L318.85,467.94 L319.44,467.47 L320.03,467.00 L320.61,466.53 L321.20,466.07 L321.79,465.60 L322.37,465.13 L322.96,464.65 L323.55,464.18 L324.13,463.71 L324.72,463.24 L325.31,462.77 L325.90,462.30 L326.48,461.82 L327.07,461.35 L327.66,460.88 L328.24,460.41 L328.83,459.93 L329.42,459.46 L330.00,458.99 L330.59,458.52 L331.18,458.05 L331.77,457.58 L332.35,457.11 L332.94,456.64 L333.53,456.17 L334.11,455.71 L334.70,455.24 L335.29,454.77 L335.88,454.31 L336.46,453.85 L337.05,453.38 L337.64,452.92 L338.22,452.46 L338.81,452.01 L339.40,451.55 L339.98,451.09 L340.57,450.64 L341.16,450.19 L341.75,449.74 L342.33,449.29 L342.92,448.84 L343.51,448.40 L344.09,447.96 L344.68,447.52 L345.27,447.08 L345.85,446.64 L346.44,446.21 L347.03,445.78 L347.62,445.35 L348.20,444.92 L348.79,444.50 L349.38,444.08 L349.96,443.66 L350.55,443.25 L351.14,442.83 L351.72,442.42 L352.31,442.02 L352.90,441.61 L353.49,441.21 L354.07,440.81 L354.66,440.42 L355.25,440.02 L355.83,439.64 L356.42,439.25 L357.01,438.87 L357.59,438.49 L358.18,438.12 L358.77,437.74 L359.36,437.38 L359.94,437.01 L360.53,436.65 L361.12,436.29 L361.70,435.94 L362.29,435.59 L362.88,435.24 L363.46,434.90 L364.05,434.56 L364.64,434.23 L365.23,433.90 L365.81,433.57 L366.40,433.25 L366.99,432.93 L367.57,432.62 L368.16,432.31 L368.75,432.00 L369.33,431.70 L369.92,431.40 L370.51,431.11 L371.10,430.82 L371.68,430.53 L372.27,430.25 L372.86,429.97 L373.44,429.70 L374.03,429.43 L374.62,429.17 L375.20,428.91 L375.79,428.66 L376.38,428.41 L376.97,428.16 L377.55,427.92 L378.14,427.68 L378.73,427.45 L379.31,427.22 L379.90,427.00" stroke="#0a14ff" stroke-dasharray="9.5 4.39"/>
<path d="M86.40,236.50 L86.99,236.52 L87.57,236.59 L88.16,236.71 L88.75,236.87 L89.34,237.07 L89.92,237.32 L90.51,237.61 L91.10,237.95 L91.68,238.33 L92.27,238.76 L92.86,239.23 L93.44,239.74 L94.03,240.30 L94.62,240.90 L95.21,241.54 L95.79,242.22 L96.38,242.94 L96.97,243.70 L97.55,244.51 L98.14,245.35 L98.73,246.23 L99.31,247.15 L99.90,248.11 L100.49,249.11 L101.08,250.14 L101.66,251.21 L102.25,252.31 L102.84,253.46 L103.42,254.63 L104.01,255.84 L104.60,257.08 L105.18,258.36 L105.77,259.67 L106.36,261.01 L106.95,262.38 L107.53,263.78 L108.12,265.21 L108.71,266.67 L109.29,268.15 L109.88,269.67 L110.47,271.21 L111.05,272.78 L111.64,274.37 L112.23,275.99 L112.81,277.63 L113.40,279.29 L113.99,280.98 L114.58,282.69 L115.16,284.42 L115.75,286.17 L116.34,287.94 L116.92,289.73 L117.51,291.54 L118.10,293.36 L118.69,295.20 L119.27,297.06 L119.86,298.93 L120.45,300.82 L121.03,302.72 L121.62,304.64 L122.21,306.57 L122.79,308.51 L123.38,310.46 L123.97,312.42 L124.56,314.39 L125.14,316.38 L125.73,318.37 L126.32,320.36 L126.90,322.37 L127.49,324.38 L128.08,326.40 L128.66,328.42 L129.25,330.45 L129.84,332.48 L130.43,334.52 L131.01,336.56 L131.60,338.60 L132.19,340.64 L132.77,342.68 L133.36,344.73 L133.95,346.77 L134.53,348.82 L135.12,350.86 L135.71,352.90 L136.30,354.94 L136.88,356.98 L137.47,359.02 L138.06,361.05 L138.64,363.07 L139.23,365.10 L139.82,367.12 L140.40,369.13 L140.99,371.14 L141.58,373.14 L142.17,375.13 L142.75,377.12 L143.34,379.10 L143.93,381.07 L144.51,383.04 L145.10,384.99 L145.69,386.94 L146.27,388.88 L146.86,390.81 L147.45,392.73 L148.03,394.63 L148.62,396.53 L149.21,398.42 L149.80,400.30 L150.38,402.16 L150.97,404.02 L151.56,405.86 L152.14,407.69 L152.73,409.51 L153.32,411.32 L153.91,413.11 L154.49,414.89 L155.08,416.66 L155.67,418.41 L156.25,420.15 L156.84,421.88 L157.43,423.60 L158.01,425.30 L158.60,426.98 L159.19,428.66 L159.78,430.32 L160.36,431.96 L160.95,433.59 L161.54,435.21 L162.12,436.81 L162.71,438.39 L163.30,439.96 L163.88,441.52 L164.47,443.06 L165.06,444.59 L165.65,446.10 L166.23,447.60 L166.82,449.08 L167.41,450.55 L167.99,452.00 L168.58,453.44 L169.17,454.86 L169.75,456.27 L170.34,457.66 L170.93,459.03 L171.51,460.40 L172.10,461.74 L172.69,463.07 L173.28,464.39 L173.86,465.69 L174.45,466.98 L175.04,468.25 L175.62,469.51 L176.21,470.75 L176.80,471.98 L177.38,473.19 L177.97,474.39 L178.56,475.57 L179.15,476.74 L179.73,477.90 L180.32,479.04 L180.91,480.17 L181.49,481.28 L182.08,482.38 L182.67,483.46 L183.25,484.53 L183.84,485.59 L184.43,486.63 L185.02,487.66 L185.60,488.68 L186.19,489.68 L186.78,490.67 L187.36,491.65 L187.95,492.61 L188.54,493.56 L189.12,494.50 L189.71,495.42 L190.30,496.33 L190.89,497.23 L191.47,498.12 L192.06,499.00 L192.65,499.86 L193.23,500.71 L193.82,501.55 L194.41,502.37 L195.00,503.19 L195.58,503.99 L196.17,504.78 L196.76,505.56 L197.34,506.33 L197.93,507.09 L198.52,507.84 L199.10,508.58 L199.69,509.30 L200.28,510.02 L200.87,510.72 L201.45,511.42 L202.04,512.10 L202.63,512.77 L203.21,513.44 L203.80,514.09 L204.39,514.74 L204.97,515.37 L205.56,515.99 L206.15,516.61 L206.74,517.22 L207.32,517.81 L207.91,518.40 L208.50,518.98 L209.08,519.55 L209.67,520.11 L210.26,520.66 L210.84,521.21 L211.43,521.75 L212.02,522.27 L212.61,522.79 L213.19,523.30 L213.78,523.81 L214.37,524.30 L214.95,524.79 L215.54,525.27 L216.13,525.75 L216.71,526.21 L217.30,526.67 L217.89,527.12 L218.48,527.56 L219.06,528.00 L219.65,528.43 L220.24,528.86 L220.82,529.27 L221.41,529.68 L222.00,530.09 L222.58,530.48 L223.17,530.87 L223.76,531.26 L224.35,531.64 L224.93,532.01 L225.52,532.38 L226.11,532.74 L226.69,533.09 L227.28,533.44 L227.87,533.79 L228.45,534.12 L229.04,534.46 L229.63,534.78 L230.22,535.11 L230.80,535.42 L231.39,535.74 L231.98,536.04 L232.56,536.35 L233.15,536.64 L233.74,536.94 L234.32,537.22 L234.91,537.51 L235.50,537.79 L236.09,538.06 L236.67,538.33 L237.26,538.59 L237.85,538.86 L238.43,539.11 L239.02,539.37 L239.61,539.61 L240.19,539.86 L240.78,540.10 L241.37,540.34 L241.96,540.57 L242.54,540.80 L243.13,541.02 L243.72,541.25 L244.30,541.46 L244.89,541.68 L245.48,541.89 L246.06,542.10 L246.65,542.30 L247.24,542.50 L247.83,542.70 L248.41,542.90 L249.00,543.09 L249.59,543.28 L250.17,543.46 L250.76,543.65 L251.35,543.83 L251.93,544.00 L252.52,544.18 L253.11,544.35 L253.70,544.52 L254.28,544.68 L254.87,544.84 L255.46,545.00 L256.04,545.16 L256.63,545.32 L257.22,545.47 L257.80,545.62 L258.39,545.77 L258.98,545.91 L259.56,546.06 L260.15,546.20 L260.74,546.33 L261.33,546.47 L261.91,546.60 L262.50,546.74 L263.09,546.87 L263.67,546.99 L264.26,547.12 L264.85,547.24 L265.44,547.36 L266.02,547.48 L266.61,547.60 L267.20,547.72 L267.78,547.83 L268.37,547.94 L268.96,548.05 L269.54,548.16 L270.13,548.27 L270.72,548.37 L271.31,548.48 L271.89,548.58 L272.48,548.68 L273.07,548.78 L273.65,548.87 L274.24,548.97 L274.83,549.06 L275.41,549.15 L276.00,549.24 L276.59,549.33 L277.18,549.42 L277.76,549.51 L278.35,549.59 L278.94,549.68 L279.52,549.76 L280.11,549.84 L280.70,549.92 L281.28,550.00 L281.87,550.07 L282.46,550.15 L283.05,550.22 L283.63,550.30 L284.22,550.37 L284.81,550.44 L285.39,550.51 L285.98,550.58 L286.57,550.65 L287.15,550.71 L287.74,550.78 L288.33,550.84 L288.92,550.90 L289.50,550.97 L290.09,551.03 L290.68,551.09 L291.26,551.15 L291.85,551.20 L292.44,551.26 L293.02,551.32 L293.61,551.37 L294.20,551.43 L294.78,551.48 L295.37,551.53 L295.96,551.58 L296.55,551.63 L297.13,551.68 L297.72,551.73 L298.31,551.78 L298.89,551.83 L299.48,551.87 L300.07,551.92 L300.65,551.96 L301.24,552.01 L301.83,552.05 L302.42,552.09 L303.00,552.13 L303.59,552.18 L304.18,552.22 L304.76,552.25 L305.35,552.29 L305.94,552.33 L306.52,552.37 L307.11,552.41 L307.70,552.44 L308.29,552.48 L308.87,552.51 L309.46,552.55 L310.05,552.58 L310.63,552.61 L311.22,552.64 L311.81,552.67 L312.39,552.71 L312.98,552.74 L313.57,552.77 L314.16,552.79 L314.74,552.82 L315.33,552.85 L315.92,552.88 L316.50,552.91 L317.09,552.93 L317.68,552.96 L318.26,552.98 L318.85,553.01 L319.44,553.03 L320.03,553.05 L320.61,553.08 L321.20,553.10 L321.79,553.12 L322.37,553.14 L322.96,553.14 L323.55,553.14 L324.13,553.14 L324.72,553.14 L325.31,553.14 L325.90,553.14 L326.48,553.14 L327.07,553.14 L327.66,553.14 L328.24,553.14 L328.83,553.14 L329.42,553.14 L330.00,553.14 L330.59,553.14 L331.18,553.14 L331.77,553.14 L332.35,553.14 L332.94,553.14 L333.53,553.14 L334.11,553.14 L334.70,553.14 L335.29,553.14 L335.88,553.14 L336.46,553.14 L337.05,553.14 L337.64,553.14 L338.22,553.14 L338.81,553.14 L339.40,553.14 L339.98,553.14 L340.57,553.14 L341.16,553.14 L341.75,553.14 L342.33,553.14 L342.92,553.14 L343.51,553.14 L344.09,553.14 L344.68,553.14 L345.27,553.14 L345.85,553.14 L346.44,553.14 L347.03,553.14 L347.62,553.14 L348.20,553.14 L348.79,553.14 L349.38,553.14 L349.96,553.14 L350.55,553.14 L351.14,553.14 L351.72,553.14 L352.31,553.14 L352.90,553.14 L353.49,553.14 L354.07,553.14 L354.66,553.14 L355.25,553.14 L355.83,553.14 L356.42,553.14 L357.01,553.14 L357.59,553.14 L358.18,553.14 L358.77,553.14 L359.36,553.14 L359.94,553.14 L360.53,553.14 L361.12,553.14 L361.70,553.14 L362.29,553.14 L362.88,553.14 L363.46,553.14 L364.05,553.14 L364.64,553.14 L365.23,553.14 L365.81,553.14 L366.40,553.14 L366.99,553.14 L367.57,553.14 L368.16,553.14 L368.75,553.14 L369.33,553.14 L369.92,553.14 L370.51,553.14 L371.10,553.14 L371.68,553.14 L372.27,553.14 L372.86,553.14 L373.44,553.14 L374.03,553.14 L374.62,553.14 L375.20,553.14 L375.79,553.14 L376.38,553.14 L376.97,553.14 L377.55,553.14 L378.14,553.14 L378.73,553.14 L379.31,553.14 L379.90,553.14" stroke="#000000" stroke-dasharray="1.65 1.05" stroke-width="1.5"/>
</g>
<path d="M250,353.3 h15.6" stroke="#000000" stroke-width="1.3"/>
<text x="309" y="359.5" text-anchor="end" font-family="Liberation Sans, sans-serif" font-size="12.2"><tspan font-style="italic" font-size="13.2">Δ</tspan><tspan dx="1.8">=13</tspan></text>
<path d="M250,369.7 h15.6" stroke="#0000c8" stroke-width="1.3"/>
<text x="309" y="375.9" text-anchor="end" font-family="Liberation Sans, sans-serif" font-size="12.2"><tspan font-style="italic" font-size="13.2">Δ</tspan><tspan dx="1.8">=10</tspan></text>
<path d="M250,385.9 h15.6" stroke="#b20000" stroke-width="1.3"/>
<text x="309" y="392.1" text-anchor="end" font-family="Liberation Sans, sans-serif" font-size="12.2"><tspan font-style="italic" font-size="13.2">Δ</tspan><tspan dx="1.8">=8.0</tspan></text>
<path d="M250,401.9 h15.6" stroke="#00b000" stroke-width="1.3"/>
<text x="309" y="408.1" text-anchor="end" font-family="Liberation Sans, sans-serif" font-size="12.2"><tspan font-style="italic" font-size="13.2">Δ</tspan><tspan dx="1.8">=6.0</tspan></text>
<path d="M250,418.3 h8.6 M263.7,418.3 h1.9" stroke="#b200b2" stroke-width="1.3"/>
<text x="309" y="424.5" text-anchor="end" font-family="Liberation Sans, sans-serif" font-size="12.2"><tspan font-style="italic" font-size="13.2">Δ</tspan><tspan dx="1.8">=4.0</tspan></text>
<path d="M250,434.7 h1.6 M256.7,434.7 h8.9" stroke="#0a14ff" stroke-width="1.3"/>
<text x="309" y="440.9" text-anchor="end" font-family="Liberation Sans, sans-serif" font-size="12.2"><tspan font-style="italic" font-size="13.2">Δ</tspan><tspan dx="1.8">=2.0</tspan></text>
<path d="M250,450.7 h15.6" stroke="#000000" stroke-width="1.3" stroke-dasharray="1.7 1.1"/>
<text x="309" y="456.9" text-anchor="end" font-family="Liberation Sans, sans-serif" font-size="12.2"><tspan font-style="italic" font-size="13.2">Δ</tspan><tspan dx="1.8">=1.0</tspan></text>
<g stroke="#262626" stroke-width="1.25" fill="none">
<rect x="452.5" y="236.5" width="240.0" height="323.5"/>
<line x1="461.10" y1="560.0" x2="461.10" y2="553.0"/>
<line x1="563.15" y1="560.0" x2="563.15" y2="553.0"/>
<line x1="665.20" y1="560.0" x2="665.20" y2="553.0"/>
<line x1="452.5" y1="398.2" x2="459.5" y2="398.2"/>
</g>
<path d="M461.10,271.90 L543.86,368.90 L602.57,434.60 L648.11,487.90 L685.33,533.20" stroke="#ab0000" stroke-width="1.4" fill="none"/>
<circle cx="461.10" cy="271.90" r="4.6" fill="#ab0000"/>
<circle cx="543.86" cy="368.90" r="4.6" fill="#ab0000"/>
<circle cx="602.57" cy="434.60" r="4.6" fill="#ab0000"/>
<circle cx="648.11" cy="487.90" r="4.6" fill="#ab0000"/>
<circle cx="685.33" cy="533.20" r="4.6" fill="#ab0000"/>
<text x="166.5" y="53.2" font-family="Liberation Serif, serif" font-size="19.5" text-anchor="end" ><tspan>−</tspan><tspan dx="2">1.</tspan></text>
<text x="166.5" y="119.5" font-family="Liberation Serif, serif" font-size="19.5" text-anchor="end" ><tspan>−</tspan><tspan dx="2">1.5</tspan></text>
<text x="161.6" y="185.8" font-family="Liberation Serif, serif" font-size="19.5" text-anchor="end" ><tspan>−</tspan><tspan dx="2">2</tspan></text>
<text x="168.9" y="196.9" font-family="Liberation Serif, serif" font-size="19.5" text-anchor="middle" ><tspan>1.</tspan></text>
<text x="316.29999999999995" y="196.9" font-family="Liberation Serif, serif" font-size="19.5" text-anchor="middle" ><tspan>1.5</tspan></text>
<text x="462.99999999999994" y="196.9" font-family="Liberation Serif, serif" font-size="19.5" text-anchor="middle" ><tspan>2.</tspan></text>
<text x="611.0" y="196.9" font-family="Liberation Serif, serif" font-size="19.5" text-anchor="middle" ><tspan>2.5</tspan></text>
<text x="390" y="219.2" font-family="Liberation Serif, serif" font-size="19.8" text-anchor="middle" ><tspan>ln(Δ)</tspan></text>
<text transform="translate(120.5,114.1) rotate(-90)" font-family="Liberation Serif, serif" font-size="19.8" text-anchor="middle">ln(<tspan font-style="italic">T</tspan><tspan font-style="italic" font-size="14" dy="3">r</tspan><tspan dy="-3">)</tspan></text>
<text x="555.3" y="92.8" font-family="Liberation Serif, serif" font-size="21" text-anchor="start" ><tspan>(a)</tspan></text>
<text y="118.7" font-family="Liberation Serif, serif" font-size="17"><tspan x="227" font-style="italic">T</tspan><tspan x="236.2" font-style="italic" font-size="12" dy="3">r</tspan><tspan x="261.2" dy="-3">Δ</tspan><tspan x="272.6" font-size="12.5" dy="-5.4">−</tspan></text>
<path d="M246.60,113.35h9.4M246.60,116.85h9.4" stroke="#000" stroke-width="1.15" fill="none"/>
<text transform="translate(279.9,113.3) scale(1.3,1)" font-family="Liberation Serif, serif" font-size="12.5" font-style="italic">τ</text>
<text transform="translate(227.9,144.8) scale(1.2,1)" font-family="Liberation Serif, serif" font-size="17" font-style="italic">τ</text>
<path d="M241.20,139.45h9.4M241.20,142.95h9.4" stroke="#000" stroke-width="1.15" fill="none"/>
<text y="144.8" font-family="Liberation Serif, serif" font-size="17"><tspan x="255.6">0.85</tspan></text>
<text x="84.2" y="241.8" font-family="Liberation Serif, serif" font-size="19.5" text-anchor="end" ><tspan>1.</tspan></text>
<text x="84" y="403" font-family="Liberation Serif, serif" font-size="19.5" text-anchor="end" ><tspan>0.5</tspan></text>
<text x="79.3" y="564.3" font-family="Liberation Serif, serif" font-size="19.5" text-anchor="end" ><tspan>0</tspan></text>
<text x="85.8" y="575.9" font-family="Liberation Serif, serif" font-size="19.5" text-anchor="middle" ><tspan>0.</tspan></text>
<text x="233.15" y="575.9" font-family="Liberation Serif, serif" font-size="19.5" text-anchor="middle" ><tspan>0.5</tspan></text>
<text x="380.3" y="575.9" font-family="Liberation Serif, serif" font-size="19.5" text-anchor="middle" ><tspan>1.</tspan></text>
<text x="230.8" y="598" font-family="Liberation Serif, serif" font-size="19.8" text-anchor="middle" ><tspan>t</tspan></text>
<text transform="translate(52.8,398.5) rotate(-90)" font-family="Liberation Serif, serif" font-size="19.8" text-anchor="middle">EoF</text>
<text x="323" y="500.7" font-family="Liberation Serif, serif" font-size="21" text-anchor="start" ><tspan>(b)</tspan></text>
<text y="500.2" font-family="Liberation Serif, serif" font-size="17"><tspan x="116.3" font-style="italic">θ</tspan><tspan x="124.2" font-size="12" dy="3">c</tspan><tspan x="148.8" dy="-3" font-style="italic" font-size="18">π</tspan><tspan x="159.3">/2</tspan></text>
<path d="M134.80,494.85h8.9M134.80,498.35h8.9" stroke="#000" stroke-width="1.15" fill="none"/>
<text x="100" y="532.4" font-family="Liberation Sans, sans-serif" font-size="17">J<tspan font-size="12" dy="3.5">0</tspan><tspan dy="-3.5">=1, g=0.1</tspan></text>
<text x="451" y="241.2" font-family="Liberation Serif, serif" font-size="19.5" text-anchor="end" ><tspan>0.</tspan></text>
<text x="450.4" y="402.8" font-family="Liberation Serif, serif" font-size="19.5" text-anchor="end" ><tspan>−</tspan><tspan dx="2">0.5</tspan></text>
<text x="451" y="564.9" font-family="Liberation Serif, serif" font-size="19.5" text-anchor="end" ><tspan>−</tspan><tspan dx="2">1.</tspan></text>
<text x="460.9" y="575.9" font-family="Liberation Serif, serif" font-size="19.5" text-anchor="middle" ><tspan>0.</tspan></text>
<text x="562.55" y="575.9" font-family="Liberation Serif, serif" font-size="19.5" text-anchor="middle" ><tspan>0.5</tspan></text>
<text x="666.8" y="575.9" font-family="Liberation Serif, serif" font-size="19.5" text-anchor="middle" ><tspan>1.</tspan></text>
<text x="572.3" y="598" font-family="Liberation Serif, serif" font-size="19.8" text-anchor="middle" ><tspan>ln(Δ)</tspan></text>
<text transform="translate(404.9,398.9) rotate(-90)" font-family="Liberation Serif, serif" font-size="19.8" text-anchor="middle">ln(<tspan font-style="italic">T</tspan><tspan font-style="italic" font-size="14" dy="3">r</tspan><tspan dy="-3">)</tspan></text>
<text x="632.3" y="305.9" font-family="Liberation Serif, serif" font-size="21" text-anchor="start" ><tspan>(c)</tspan></text>
<text y="467.5" font-family="Liberation Serif, serif" font-size="17"><tspan x="494.8" font-style="italic">T</tspan><tspan x="504.0" font-style="italic" font-size="12" dy="3">r</tspan><tspan x="529.0" dy="-3">Δ</tspan><tspan x="540.4" font-size="12.5" dy="-5.4">−</tspan></text>
<path d="M514.40,462.15h9.4M514.40,465.65h9.4" stroke="#000" stroke-width="1.15" fill="none"/>
<text transform="translate(547.7,462.1) scale(1.3,1)" font-family="Liberation Serif, serif" font-size="12.5" font-style="italic">τ</text>
<text transform="translate(495.7,499.1) scale(1.2,1)" font-family="Liberation Serif, serif" font-size="17" font-style="italic">τ</text>
<path d="M509.00,493.75h9.4M509.00,497.25h9.4" stroke="#000" stroke-width="1.15" fill="none"/>
<text y="499.1" font-family="Liberation Serif, serif" font-size="17"><tspan x="523.4">0.75</tspan></text>
</svg>
</body></html>
